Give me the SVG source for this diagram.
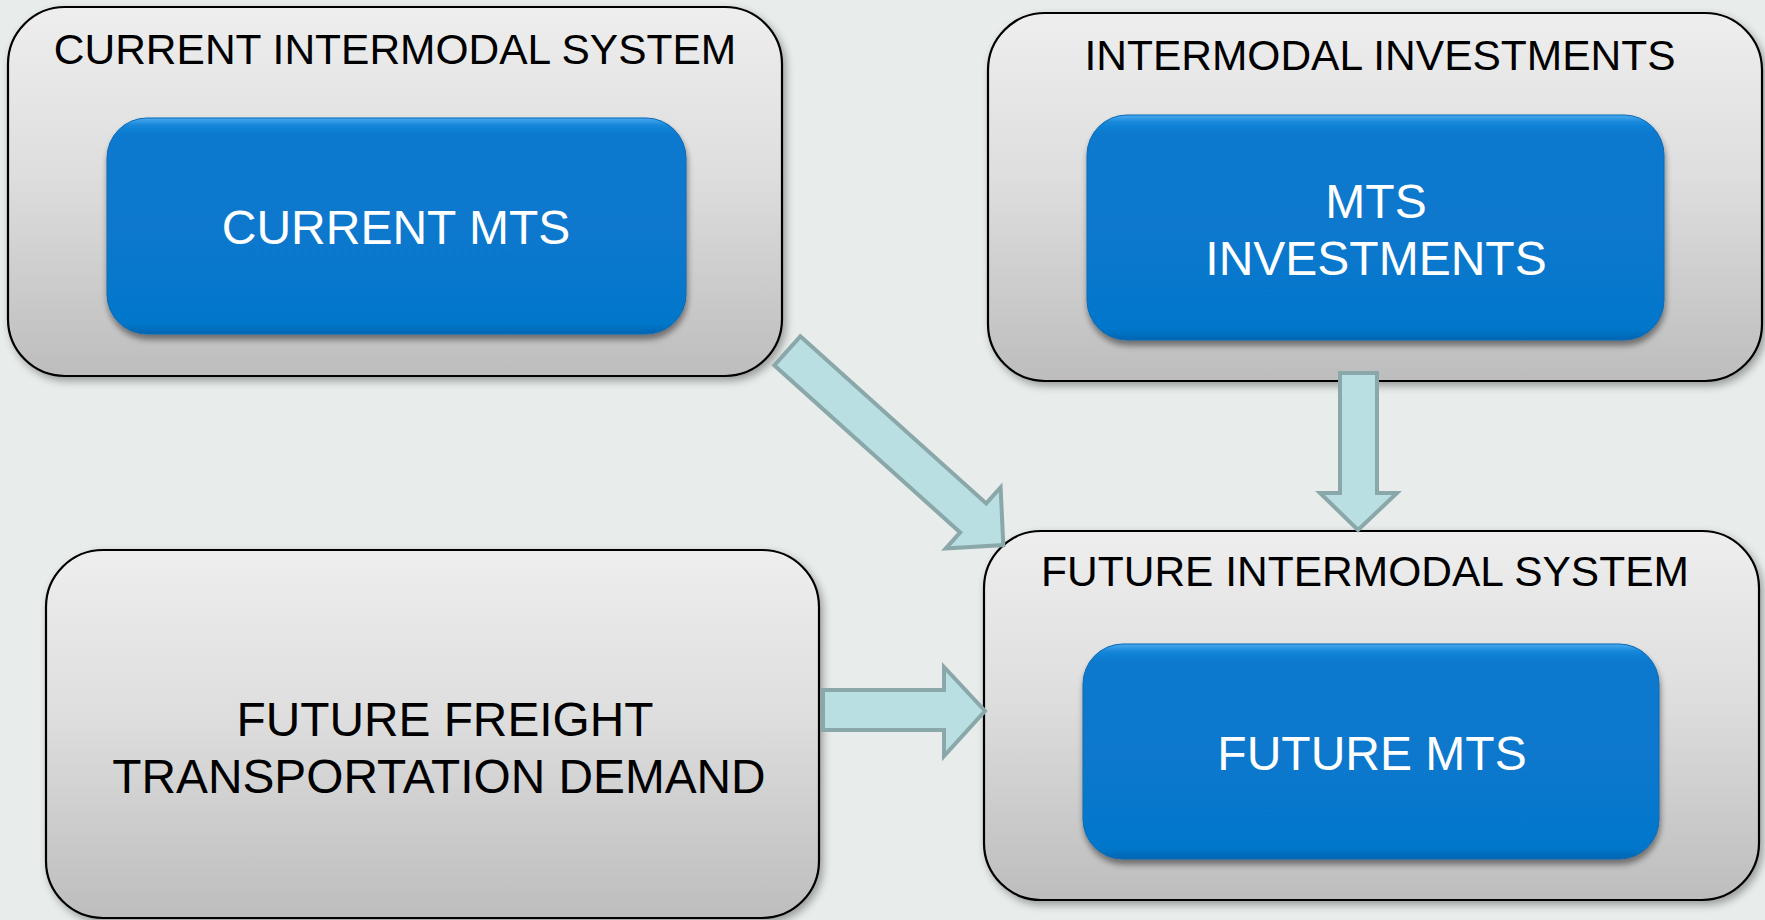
<svg xmlns="http://www.w3.org/2000/svg" width="1765" height="920" viewBox="0 0 1765 920">
  <defs>
    <linearGradient id="grayFill" x1="0" y1="0" x2="0" y2="1">
      <stop offset="0" stop-color="#eeeeee"/>
      <stop offset="0.45" stop-color="#dedede"/>
      <stop offset="1" stop-color="#bdbdbd"/>
    </linearGradient>
    <linearGradient id="blueFill" x1="0" y1="0" x2="0" y2="1">
      <stop offset="0" stop-color="#4aaaf0"/>
      <stop offset="0.035" stop-color="#1486d9"/>
      <stop offset="0.08" stop-color="#0879ce"/>
      <stop offset="0.95" stop-color="#0677cb"/>
      <stop offset="1" stop-color="#0566b2"/>
    </linearGradient>
    <filter id="boxShadow" x="-5%" y="-5%" width="112%" height="115%">
      <feGaussianBlur in="SourceAlpha" stdDeviation="4"/>
      <feOffset dx="3" dy="4" result="off"/>
      <feComponentTransfer><feFuncA type="linear" slope="0.35"/></feComponentTransfer>
      <feMerge><feMergeNode/><feMergeNode in="SourceGraphic"/></feMerge>
    </filter>
    <filter id="panelShadow" x="-5%" y="-5%" width="112%" height="120%">
      <feGaussianBlur in="SourceAlpha" stdDeviation="3"/>
      <feOffset dx="1" dy="5" result="off"/>
      <feComponentTransfer><feFuncA type="linear" slope="0.45"/></feComponentTransfer>
      <feMerge><feMergeNode/><feMergeNode in="SourceGraphic"/></feMerge>
    </filter>
  </defs>
  <style>
    .outer { fill: url(#grayFill); stroke: #000; stroke-width: 2.2; filter: url(#boxShadow); }
    .inner { fill: url(#blueFill); stroke: #0868b4; stroke-width: 1; filter: url(#panelShadow); }
    .title { font-family: "Liberation Sans", Arial, sans-serif; font-size: 42.5px; fill: #000; text-anchor: middle; }
    .label { font-family: "Liberation Sans", Arial, sans-serif; font-size: 48px; fill: #fff; text-anchor: middle; }
    .dark { font-family: "Liberation Sans", Arial, sans-serif; font-size: 47.8px; fill: #000; text-anchor: middle; }
    .arrow { fill: #b9dfe2; stroke: #8aa7a9; stroke-width: 4; stroke-linejoin: miter; }
  </style>

  <!-- backdrop -->
  <rect x="0" y="0" width="1765" height="920" fill="#e8edeb"/>

  <g id="current-intermodal-system">
    <rect class="outer" x="8" y="7" width="774" height="369" rx="57" ry="57"/>
    <text class="title" x="395" y="64">CURRENT INTERMODAL SYSTEM</text>
    <g id="current-mts">
      <rect class="inner" x="107" y="118" width="579" height="216" rx="40" ry="40"/>
      <text class="label" x="396" y="244">CURRENT MTS</text>
    </g>
  </g>

  <g id="intermodal-investments">
    <rect class="outer" x="988" y="13" width="774" height="368" rx="57" ry="57"/>
    <text class="title" x="1380" y="70">INTERMODAL INVESTMENTS</text>
    <g id="mts-investments">
      <rect class="inner" x="1087" y="115" width="577" height="225" rx="40" ry="40"/>
      <text class="label" x="1376" y="218">MTS</text>
      <text class="label" x="1376" y="275">INVESTMENTS</text>
    </g>
  </g>

  <g id="future-freight-demand">
    <rect class="outer" x="46" y="550" width="773" height="368" rx="57" ry="57"/>
    <text class="dark" x="445" y="736">FUTURE FREIGHT</text>
    <text class="dark" x="439" y="793">TRANSPORTATION DEMAND</text>
  </g>

  <g id="future-intermodal-system">
    <rect class="outer" x="984" y="531" width="775" height="369" rx="57" ry="57"/>
    <text class="title" x="1365" y="586">FUTURE INTERMODAL SYSTEM</text>
    <g id="future-mts">
      <rect class="inner" x="1083" y="644" width="576" height="215" rx="40" ry="40"/>
      <text class="label" x="1372" y="770">FUTURE MTS</text>
    </g>
  </g>

  <!-- block arrows between the panels -->
  <g id="connectors">
    <polygon class="arrow" transform="translate(787.3 350.8) rotate(41.96)"
             points="0,-19.5 250,-19.5 250,-41 290.5,0 250,41 250,19.5 0,19.5"/>
    <polygon class="arrow" points="1340,373 1377,373 1377,493 1397,493 1358,530 1320,493 1340,493"/>
    <polygon class="arrow" points="823,690 944,690 944,667 985,711 944,756 944,730 823,730"/>
  </g>
</svg>
